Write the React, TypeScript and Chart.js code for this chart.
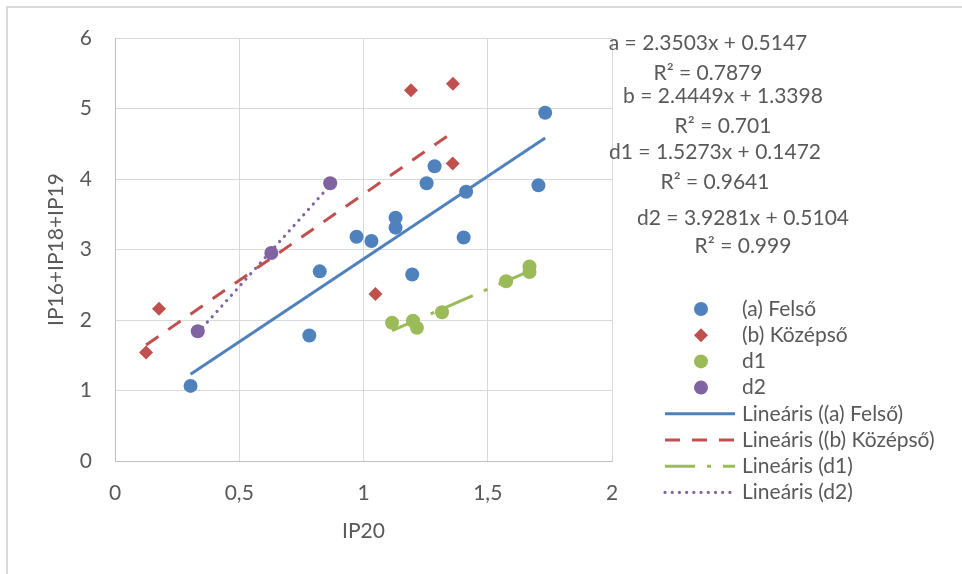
import React, { useEffect, useRef } from "react";
import { Chart, registerables } from "chart.js";

Chart.register(...registerables);

// ---- data ----
const seriesNames = ["(a) Felső", "(b) Középső", "d1", "d2"];
const trendNames = ["Lineáris ((a) Felső)", "Lineáris ((b) Középső)", "Lineáris (d1)", "Lineáris (d2)"];

const aX = [0.304, 0.782, 0.824, 0.972, 1.032, 1.129, 1.129, 1.196, 1.254, 1.286, 1.413, 1.403, 1.731, 1.704];
const aY = [1.065, 1.78, 2.69, 3.18, 3.12, 3.45, 3.31, 2.645, 3.94, 4.18, 3.82, 3.17, 4.94, 3.91];

const bX = [0.125, 0.177, 1.048, 1.191, 1.36, 1.359];
const bY = [1.54, 2.16, 2.37, 5.26, 5.35, 4.22];

const d1X = [1.115, 1.199, 1.215, 1.316, 1.574, 1.668, 1.668];
const d1Y = [1.96, 1.99, 1.89, 2.11, 2.55, 2.76, 2.68];

const d2X = [0.333, 0.629, 0.866];
const d2Y = [1.84, 2.95, 3.94];

const slopes = [2.3503, 2.4449, 1.5273, 3.9281];
const intercepts = [0.5147, 1.3398, 0.1472, 0.5104];

const eqLabels = ["a = 2.3503x + 0.5147", "b = 2.4449x + 1.3398", "d1 = 1.5273x + 0.1472", "d2 = 3.9281x + 0.5104"];
const r2Labels = ["R² = 0.7879", "R² = 0.701", "R² = 0.9641", "R² = 0.999"];

const xTickLabels = ["0", "0,5", "1", "1,5", "2"];
const yTickLabels = ["0", "1", "2", "3", "4", "5", "6"];

const xTitle = "IP20";
const yTitle = "IP16+IP18+IP19";

// ---- styles ----
const colors = ["#4f81bd", "#c0504d", "#9bbb59", "#8064a2"];
const pointStyles = ["circle", "rectRot", "circle", "circle"];
const dashes: number[][] = [[], [15, 12], [30, 12, 4, 12], [0.01, 7.2]];
const caps = ["butt", "butt", "butt", "round"];
const lineWidths = [3, 3, 3, 3.2];
const TEXT = "#595959";
const FONT = "Lato";
const FS = 21;

const eqPos = [
  [708, 43, 708, 73],
  [723, 96, 723, 126],
  [715, 152, 715, 182],
  [743, 218, 743, 246],
];

function toPoints(xs: number[], ys: number[]) {
  return xs.map((x, i) => ({ x, y: ys[i] }));
}

function trend(xs: number[], k: number) {
  const lo = Math.min(...xs);
  const hi = Math.max(...xs);
  return [
    { x: lo, y: slopes[k] * lo + intercepts[k] },
    { x: hi, y: slopes[k] * hi + intercepts[k] },
  ];
}

const overlayPlugin = {
  id: "overlay",
  beforeDraw(chart: any) {
    const ctx = chart.ctx;
    ctx.save();
    ctx.fillStyle = "#ffffff";
    ctx.fillRect(0, 0, chart.width, chart.height);
    ctx.strokeStyle = "#d9d9d9";
    ctx.lineWidth = 2;
    ctx.strokeRect(7, 7, chart.width + 20, chart.height + 20);
    ctx.restore();
  },
  afterDraw(chart: any) {
    const ctx = chart.ctx;
    ctx.save();
    ctx.fillStyle = TEXT;
    ctx.font = `${FS}px ${FONT}`;
    ctx.textAlign = "center";
    ctx.textBaseline = "middle";
    eqLabels.forEach((t, i) => {
      const p = eqPos[i];
      ctx.fillText(t, p[0], p[1]);
      ctx.fillText(r2Labels[i], p[2], p[3]);
    });

    // legend
    const rowY0 = 309;
    const step = 26.2;
    const markerX = 701;
    const textX = 742;
    ctx.textAlign = "left";
    seriesNames.forEach((n, i) => {
      const y = rowY0 + i * step;
      ctx.fillStyle = colors[i];
      ctx.beginPath();
      if (pointStyles[i] === "rectRot") {
        ctx.moveTo(markerX, y - 7);
        ctx.lineTo(markerX + 7, y);
        ctx.lineTo(markerX, y + 7);
        ctx.lineTo(markerX - 7, y);
        ctx.closePath();
      } else {
        ctx.arc(markerX, y, 7, 0, Math.PI * 2);
      }
      ctx.fill();
      ctx.fillStyle = TEXT;
      ctx.fillText(n, textX, y);
    });
    trendNames.forEach((n, i) => {
      const y = rowY0 + (i + 4) * step;
      ctx.strokeStyle = colors[i];
      ctx.lineWidth = lineWidths[i];
      ctx.setLineDash(dashes[i]);
      ctx.lineCap = caps[i];
      ctx.beginPath();
      ctx.moveTo(665, y);
      ctx.lineTo(735, y);
      ctx.stroke();
      ctx.setLineDash([]);
      ctx.fillStyle = TEXT;
      ctx.fillText(n, textX, y);
    });
    ctx.restore();
  },
};

export default function App() {
  const ref = useRef<HTMLCanvasElement | null>(null);

  useEffect(() => {
    if (!ref.current) return;
    const xs = [aX, bX, d1X, d2X];
    const ys = [aY, bY, d1Y, d2Y];
    const scatterSets = seriesNames.map((n, i) => ({
      label: n,
      data: toPoints(xs[i], ys[i]),
      showLine: false,
      pointStyle: pointStyles[i],
      pointRadius: 7,
      pointHoverRadius: 7,
      backgroundColor: colors[i],
      borderColor: colors[i],
      borderWidth: 0,
    }));
    const trendSets = trendNames.map((n, i) => ({
      label: n,
      data: trend(xs[i], i),
      showLine: true,
      pointRadius: 0,
      borderColor: colors[i],
      backgroundColor: colors[i],
      borderWidth: lineWidths[i],
      borderDash: dashes[i],
      borderCapStyle: caps[i],
      fill: false,
    }));

    const chart = new Chart(ref.current, {
      type: "scatter",
      data: { datasets: [...scatterSets, ...trendSets] as any },
      options: {
        animation: false,
        responsive: true,
        maintainAspectRatio: false,
        layout: { padding: { left: 0, top: 38, right: 350, bottom: 0 } },
        plugins: { legend: { display: false }, tooltip: { enabled: false } },
        scales: {
          x: {
            type: "linear",
            min: 0,
            max: 2,
            afterFit: (s: any) => {
              s.height = 113;
            },
            ticks: {
              stepSize: 0.5,
              padding: 20,
              color: TEXT,
              font: { family: FONT, size: FS },
              callback: (v: any) => {
                const idx = Math.round(Number(v) / 0.5);
                return xTickLabels[idx] ?? "";
              },
            },
            grid: { color: "#d9d9d9", lineWidth: 1, drawTicks: false },
            border: { color: "#bfbfbf", width: 1 },
            title: {
              display: true,
              text: xTitle,
              color: TEXT,
              font: { family: FONT, size: FS },
              padding: { top: 30, bottom: 30 },
            },
          },
          y: {
            type: "linear",
            min: 0,
            max: 6,
            afterFit: (s: any) => {
              s.width = 115;
            },
            ticks: {
              stepSize: 1,
              padding: 23,
              color: TEXT,
              font: { family: FONT, size: FS },
              callback: (v: any) => yTickLabels[Math.round(Number(v))] ?? "",
            },
            grid: { color: "#d9d9d9", lineWidth: 1, drawTicks: false },
            border: { color: "#bfbfbf", width: 1 },
            title: {
              display: true,
              text: yTitle,
              color: TEXT,
              font: { family: FONT, size: FS },
              padding: { top: 44, bottom: 0 },
            },
          },
        },
      },
      plugins: [overlayPlugin],
    });
    return () => chart.destroy();
  }, []);

  return (
    <div style={{ position: "absolute", left: 0, top: 0, width: 962, height: 574 }}>
      <canvas ref={ref} />
    </div>
  );
}
